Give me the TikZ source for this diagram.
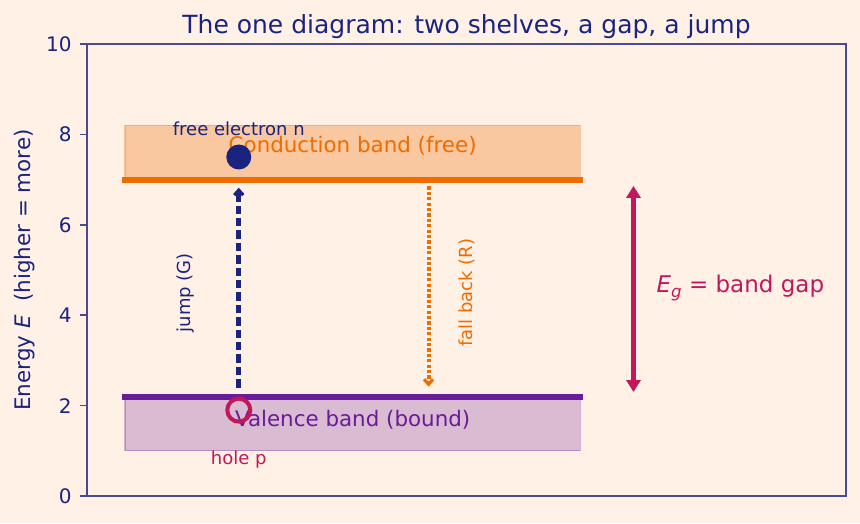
\documentclass[tikz,border=0pt]{standalone}
\usepackage{fontspec}
\setmainfont{DejaVu Sans}
\usetikzlibrary{arrows.meta}

\definecolor{paper}{HTML}{FFF1E6}
\definecolor{ink}{HTML}{1A237E}
\definecolor{cband}{HTML}{EF6C00}
\definecolor{vband}{HTML}{6A1B9A}
\definecolor{gapred}{HTML}{C2185B}
\definecolor{spine}{HTML}{4A4A8E}

\begin{document}
\begin{tikzpicture}[
    x=37.95pt, y=22.6pt,
    tick/.style={
        font=\fontsize{10}{12}\selectfont,
        text=ink,
        anchor=east,
        inner sep=0pt
    },
    shelf/.style={
        line width=3pt
    },
    label/.style={
        font=\fontsize{10.7}{13}\selectfont,
        inner sep=0pt
    },
    small/.style={
        font=\fontsize{9}{11}\selectfont,
        inner sep=0pt
    },
    barb/.style={
        -{Straight Barb[length=2.5pt,width=4.5pt,line width=1.6pt]}
    }
]

% Frame
\fill[paper] (-1.146,-0.597) rectangle (10.184,10.973);
\useasboundingbox (-1.146,-0.597) rectangle (10.184,10.973);

\node[font=\fontsize{12.5}{15}\selectfont, text=ink] (title) at (5,10.39)
    {The one diagram: two shelves, a gap, a jump};

% Axis
\foreach \e in {0,2,...,10} {
    \draw[spine, line width=0.8pt] (-0.092,\e) -- (0,\e);
    \node[tick] (tick\e) at (-0.198,\e) {\e};
}
\node[label, text=ink, rotate=90] (ylabel) at (-0.817,5)
    {Energy \textit{E}\ \ (higher = more)};

% Bands
\fill[cband, opacity=0.3] (0.5,7) rectangle (6.5,8.2);
\draw[cband, opacity=0.3, line width=0.6pt] (0.5,7) rectangle (6.5,8.2);
\fill[vband, opacity=0.25] (0.5,1) rectangle (6.5,2.2);
\draw[vband, opacity=0.3, line width=0.6pt] (0.5,1) rectangle (6.5,2.2);

\draw[shelf, cband] (0.46,7) -- (6.54,7);
\draw[shelf, vband] (0.46,2.2) -- (6.54,2.2);

\node[label, text=cband] (cb) at (3.5,7.75) {Conduction band (free)};
\node[label, text=vband] (vb) at (3.5,1.68) {Valence band (bound)};

% Carriers
\node[small, text=ink] (freetxt) at (2,8.12) {free electron n};
\node[small, text=gapred] (holetxt) at (2,0.8) {hole p};
\node[circle, fill=ink, minimum size=12.5pt, inner sep=0pt] (e) at (2,7.5) {};
\node[circle, draw=gapred, line width=2pt, minimum size=11.5pt, inner sep=0pt] (h) at (2,1.9) {};

% Transitions
\coordinate (jumpA) at (2,2.4);
\coordinate (jumpB) at (2,6.82);
\coordinate (fallA) at (4.5,6.85);
\coordinate (fallB) at (4.5,2.42);
\draw[ink, line width=2.4pt, dash pattern=on 4.2pt off 2pt, barb] (jumpA) -- (jumpB);
\draw[cband, line width=2pt, dash pattern=on 1.6pt off 1.1pt, barb] (fallA) -- (fallB);
\node[small, text=ink, rotate=90] (jumptxt) at (1.3,4.5) {jump (G)};
\node[small, text=cband, rotate=90] (falltxt) at (5.0,4.5) {fall back (R)};

% Gap
\coordinate (gapT) at (7.2,6.86);
\coordinate (gapB) at (7.2,2.3);
\draw[gapred, line width=2.5pt,
    {Triangle[length=6pt,width=7pt]}-{Triangle[length=6pt,width=7pt]}] (gapT) -- (gapB);
\node[font=\fontsize{11.5}{13}\selectfont, inner sep=0pt, text=gapred, anchor=west] (gaptxt) at (7.5,4.6)
    {\textit{E}\raisebox{-0.35ex}{\fontsize{8.3}{9}\selectfont\textit{g}} = band gap};

% Spines
\draw[spine, line width=0.8pt] (0,0) rectangle (10,10);

\end{tikzpicture}
\end{document}
